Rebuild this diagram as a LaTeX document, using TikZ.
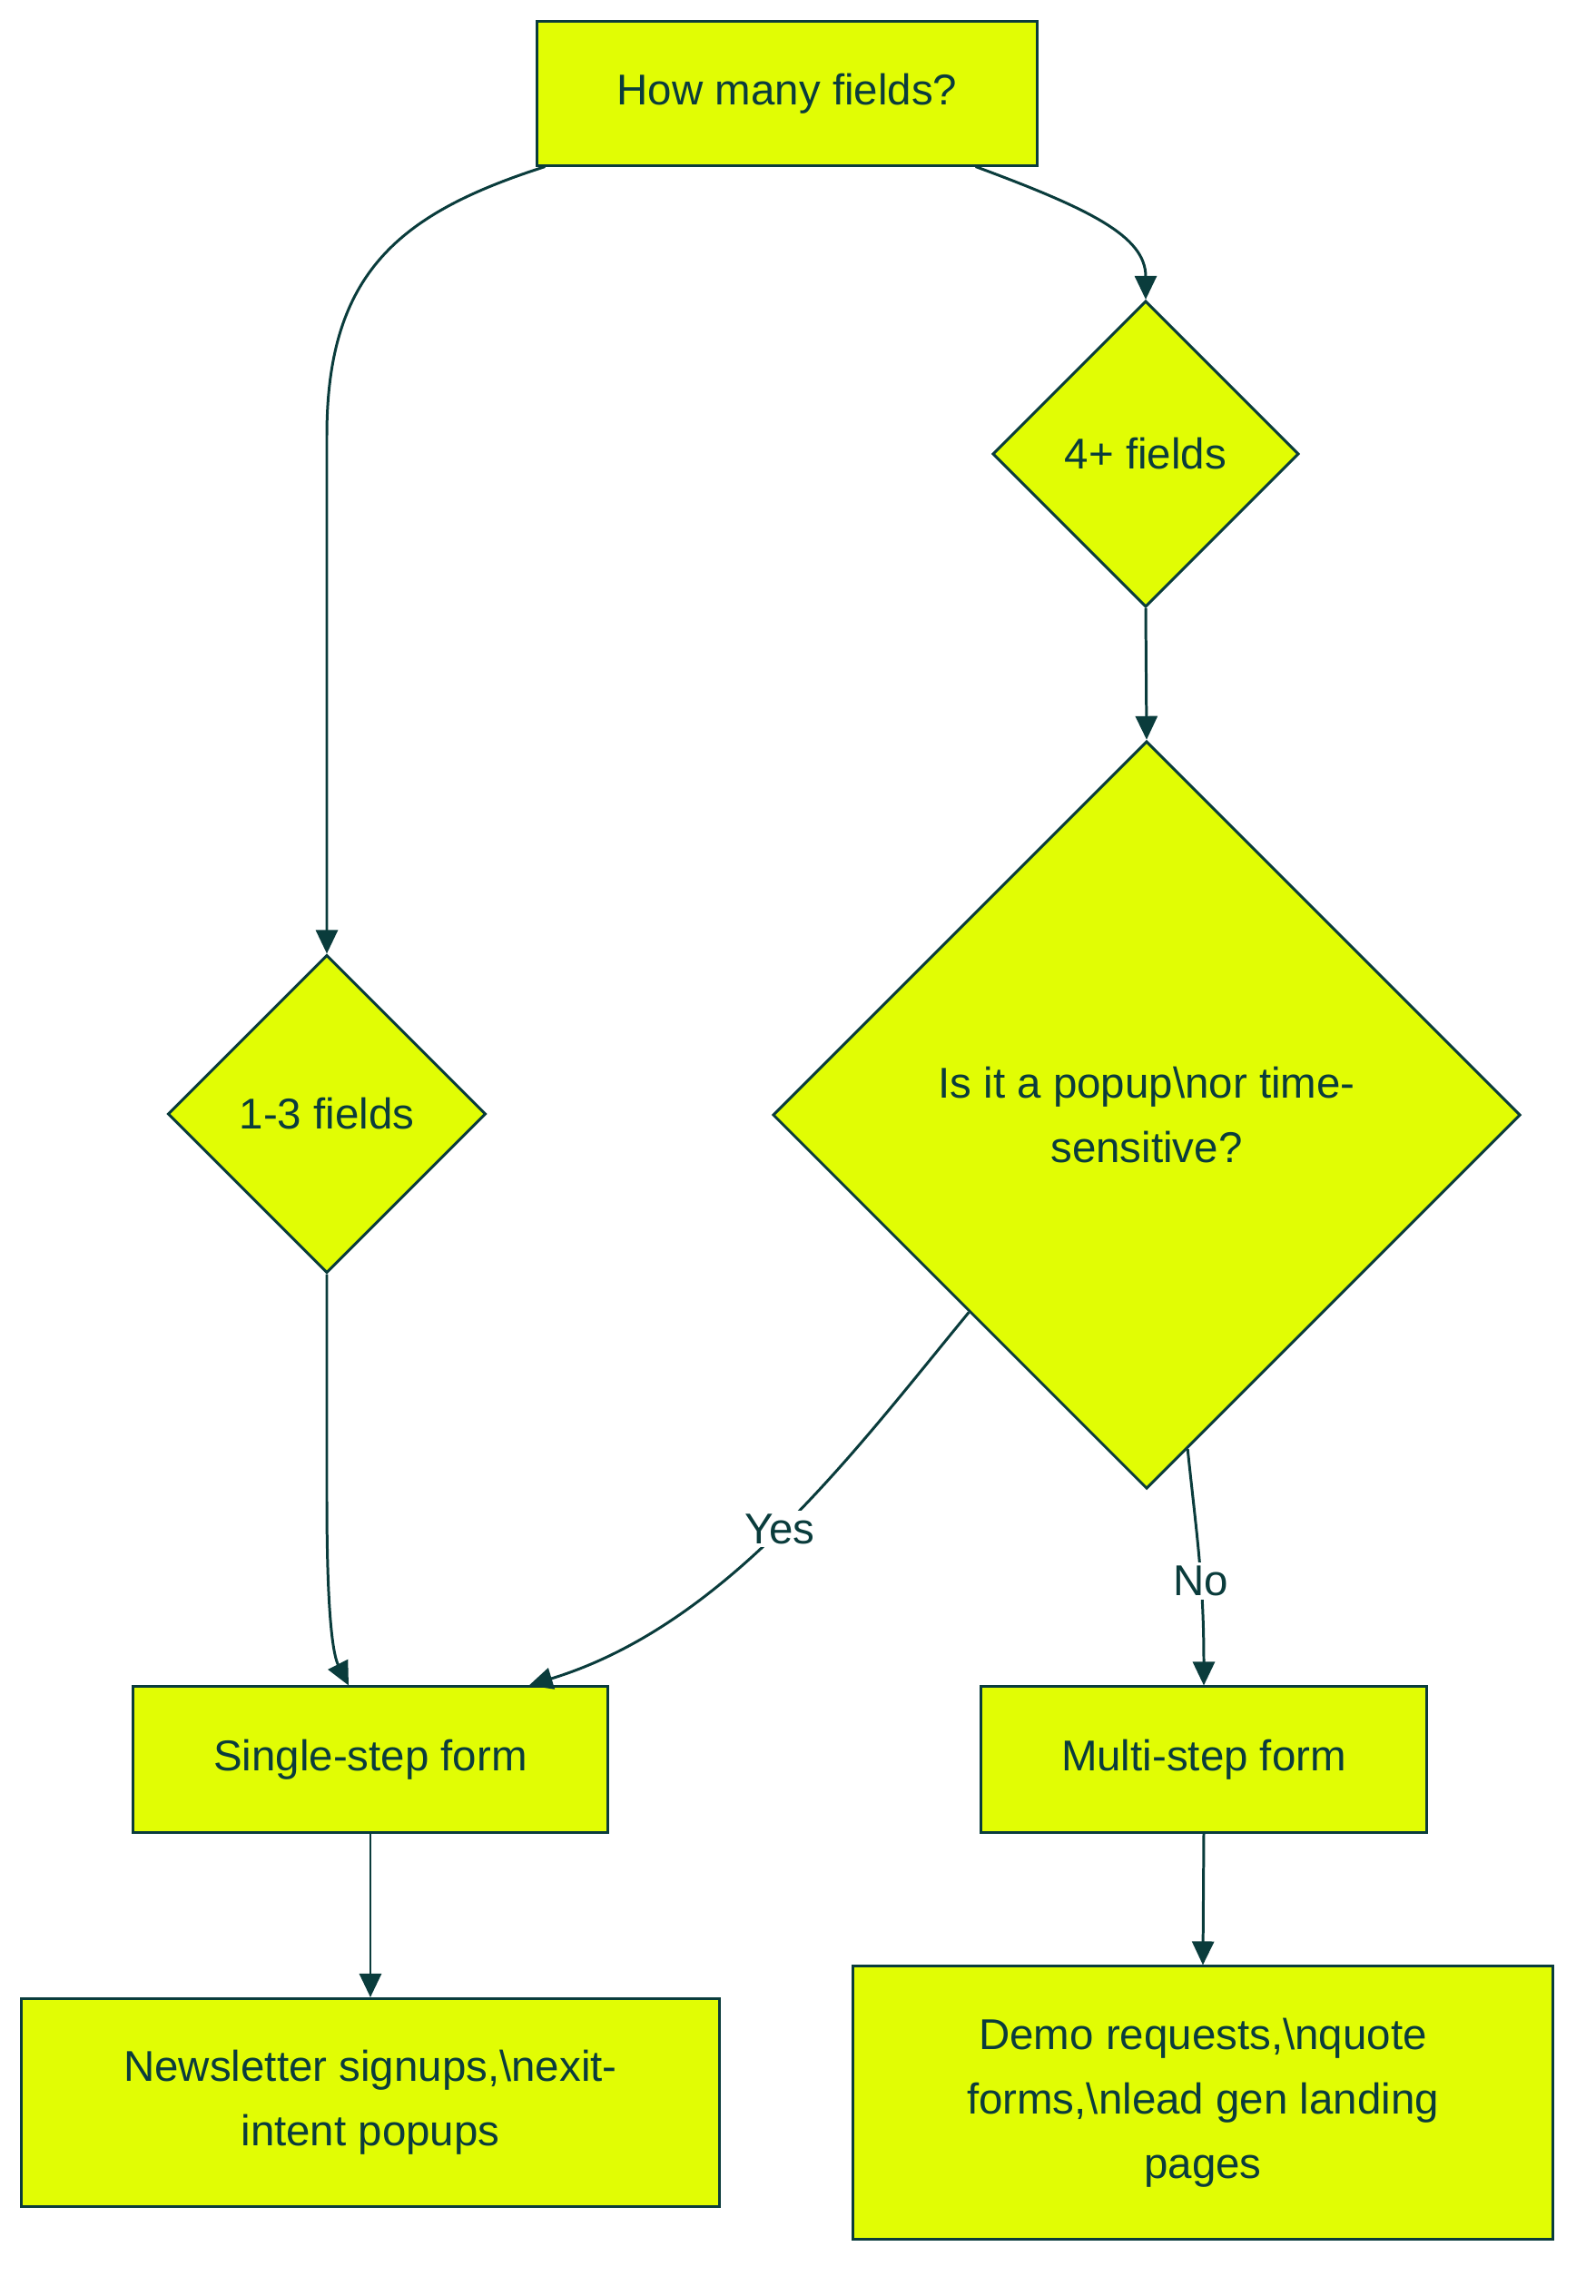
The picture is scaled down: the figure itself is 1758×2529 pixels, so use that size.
\documentclass[tikz,border=0pt]{standalone}
\usepackage{fontspec}
\setmainfont{Liberation Sans}
\definecolor{flowfill}{RGB}{225,253,4}
\definecolor{flowline}{RGB}{10,60,60}
\usetikzlibrary{arrows.meta,positioning,shapes.geometric,calc}

\begin{document}
\begin{tikzpicture}[
  x=0.01cm, y=-0.01cm,
  every node/.style={font=\fontsize{13.5}{20.2}\selectfont, text=flowline},
  stepbox/.style={draw=flowline, fill=flowfill, line width=0.85pt, rectangle, align=center, inner sep=0pt},
  choice/.style={draw=flowline, fill=flowfill, line width=0.85pt, diamond, aspect=1, align=center, inner sep=0pt},
  flow/.style={draw=flowline, line width=0.85pt, -{Triangle[length=0.26cm, width=0.24cm]}},
  edgelabel/.style={fill=white, inner sep=1pt}
]
  \useasboundingbox (0,0) rectangle (1758,2529);

  %% Start question
  \node[stepbox, minimum width=5.5cm, minimum height=1.58cm] (top) at (867,103) {How many fields?};

  %% Field count branches
  \node[choice, minimum size=3.37cm] (many) at (1262,500) {4+ fields};
  \node[choice, minimum size=3.5cm] (few) at (360,1227) {1-3 fields};

  %% Popup question
  \node[choice, minimum size=8.23cm] (popup) at (1263,1228) {Is it a popup\textbackslash{}nor time-\\sensitive?};

  %% Form types
  \node[stepbox, minimum width=5.22cm, minimum height=1.6cm] (single) at (408,1938) {Single-step form};
  \node[stepbox, minimum width=4.9cm, minimum height=1.6cm] (multi) at (1326,1938) {Multi-step form};

  %% Use cases
  \node[stepbox, minimum width=7.68cm, minimum height=2.29cm] (news) at (408,2316) {Newsletter signups,\textbackslash{}nexit-\\intent popups};
  \node[stepbox, minimum width=7.7cm, minimum height=3.0cm] (demo) at (1325,2316) {Demo requests,\textbackslash{}nquote\\forms,\textbackslash{}nlead gen landing\\pages};

  %% Connectors
  \draw[flow] ($(top.south west)+(10,0)$) .. controls (440,235) and (360,300) .. (360,480) -- (few.north);
  \draw[flow] ($(top.south east)+(-69,0)$) .. controls (1200,230) and (1262,260) .. (many.north);
  \draw[flow] (many.south) -- (popup.north);
  \draw[flow] (few.south) -- (360,1650) .. controls (360,1790) and (368,1825) .. ($(single.north)+(-24,0)$);
  \draw[flow] (popup.-132) .. controls (940,1600) and (800,1790) .. node[edgelabel, pos=0.5] (yes) {Yes} ($(single.north east)+(-88,0)$);
  \draw[flow] (popup.-83) .. controls (1318,1690) and (1326,1740) .. node[edgelabel, pos=0.6] (no) {No} (multi.north);
  \draw[flow] (single.south) -- (news.north);
  \draw[flow] (multi.south) -- (demo.north);
\end{tikzpicture}
\end{document}
